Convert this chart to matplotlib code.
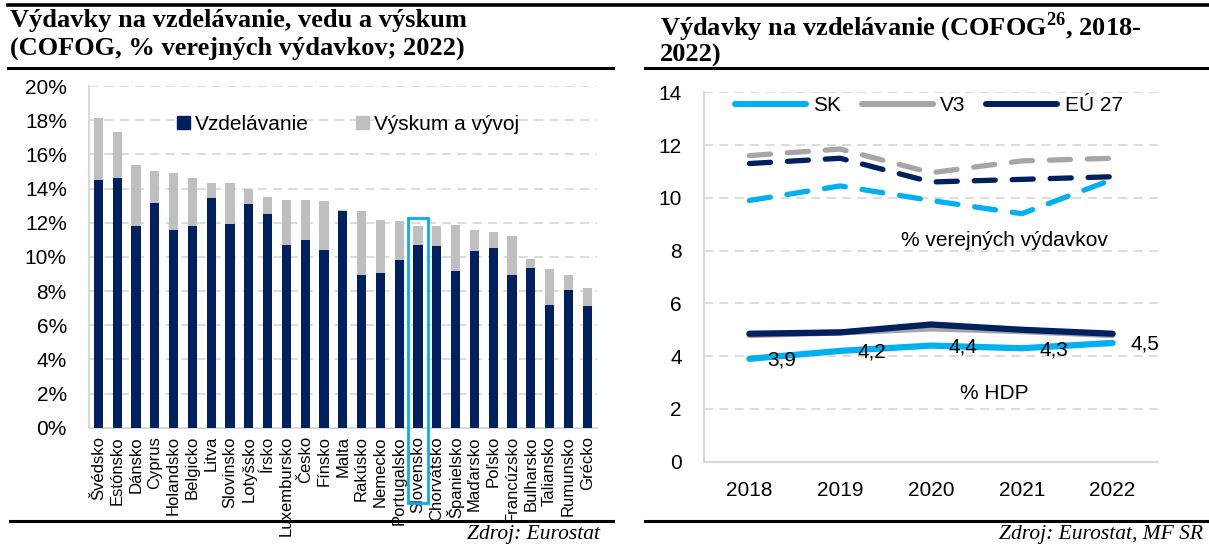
import matplotlib
matplotlib.use('Agg')
import matplotlib.pyplot as plt
import numpy as np
from matplotlib.patches import Patch, Rectangle
from matplotlib.lines import Line2D
from matplotlib.ticker import FuncFormatter, MultipleLocator

# --- data: left chart (2022, % of public spending) ---
countries = ['Švédsko', 'Estónsko', 'Dánsko', 'Cyprus', 'Holandsko', 'Belgicko',
             'Litva', 'Slovinsko', 'Lotyšsko', 'Írsko', 'Luxembursko', 'Česko',
             'Fínsko', 'Malta', 'Rakúsko', 'Nemecko', 'Portugalsko', 'Slovensko',
             'Chorvátsko', 'Španielsko', 'Maďarsko', 'Poľsko', 'Francúzsko',
             'Bulharsko', 'Taliansko', 'Rumunsko', 'Grécko']
vzdelavanie = [14.5, 14.6, 11.8, 13.15, 11.6, 11.8, 13.45, 11.95, 13.1, 12.5, 10.7,
               11.0, 10.4, 12.7, 8.95, 9.05, 9.8, 10.7, 10.65, 9.15, 10.35, 10.5,
               8.95, 9.35, 7.2, 8.05, 7.15]
vyskum = [3.65, 2.7, 3.55, 1.85, 3.3, 2.8, 0.9, 2.4, 0.9, 1.0, 2.6, 2.3, 2.85,
          0.05, 3.75, 3.1, 2.3, 1.1, 1.15, 2.7, 1.2, 0.95, 2.25, 0.55, 2.1, 0.9, 1.0]
highlight = 'Slovensko'

# --- data: right chart (2018-2022) ---
years = ['2018', '2019', '2020', '2021', '2022']
sk_vydavky = [9.9, 10.45, 9.9, 9.4, 10.7]
v3_vydavky = [11.6, 11.85, 10.95, 11.4, 11.5]
eu_vydavky = [11.3, 11.5, 10.6, 10.7, 10.8]
sk_hdp = [3.9, 4.2, 4.4, 4.3, 4.5]
v3_hdp = [4.8, 4.9, 5.05, 4.95, 4.8]
eu_hdp = [4.85, 4.9, 5.2, 5.0, 4.85]

NAVY = '#002060'
GREY_BAR = '#BFBFBF'
SK_C = '#00B0F0'
V3_C = '#A6A6A6'
GRID = '#D9D9D9'
SERIF = ['Liberation Serif', 'DejaVu Serif']

plt.rcParams['font.family'] = ['Liberation Sans Narrow', 'Liberation Sans', 'DejaVu Sans']
plt.rcParams['mathtext.fontset'] = 'custom'
plt.rcParams['mathtext.rm'] = 'Liberation Serif:bold'
plt.rcParams['mathtext.bf'] = 'Liberation Serif:bold'

W, H = 1209, 544
fig = plt.figure(figsize=(W / 100, H / 100), dpi=100)


def box(x0, y0, x1, y1):
    return [x0 / W, 1 - y1 / H, (x1 - x0) / W, (y1 - y0) / H]


def hline(x0, x1, y, lw=2.2):
    fig.add_artist(Line2D([x0 / W, x1 / W], [1 - y / H, 1 - y / H],
                          color='black', lw=lw, transform=fig.transFigure))


def style_axes(ax):
    for s in ['top', 'right']:
        ax.spines[s].set_visible(False)
    for s in ['left', 'bottom']:
        ax.spines[s].set_color(GRID)
        ax.spines[s].set_linewidth(1.5)
    ax.yaxis.grid(True, color=GRID, linestyle=(0, (5, 3.5)), lw=1.3)
    ax.set_axisbelow(True)
    ax.tick_params(length=0)


# ---------------- left chart ----------------
ax1 = fig.add_axes(box(89, 86, 596.6, 427.7))
x = np.arange(len(countries))
ax1.bar(x, vzdelavanie, width=0.48, color=NAVY, zorder=3)
ax1.bar(x, vyskum, width=0.48, bottom=vzdelavanie, color=GREY_BAR, zorder=3)
ax1.set_xlim(-0.5, len(countries) - 0.5)
ax1.set_ylim(0, 20)
ax1.yaxis.set_major_locator(MultipleLocator(2))
ax1.yaxis.set_major_formatter(FuncFormatter(lambda v, p: f'{v:.0f}%'))
style_axes(ax1)
ax1.set_xticks(x)
ax1.set_xticklabels(countries, rotation=90, fontsize=12)
ax1.tick_params(axis='x', pad=6)
ax1.tick_params(axis='y', labelsize=15, pad=16)

i = countries.index(highlight)
top = vzdelavanie[i] + vyskum[i]
ax1.add_patch(Rectangle((i - 0.55, -4.4), 1.1, top + 0.45 + 4.4, fill=False,
                        edgecolor=SK_C, lw=2, clip_on=False, zorder=5))

ax1.legend(handles=[Patch(color=NAVY), Patch(color=GREY_BAR)],
           labels=['Vzdelávanie', 'Výskum a vývoj'], ncol=2, frameon=False,
           loc='upper left', bbox_to_anchor=(0.173, 0.915), fontsize=15,
           handlelength=0.62, handleheight=0.62, handletextpad=0.25,
           columnspacing=2.25, borderpad=0, borderaxespad=0)

# ---------------- right chart ----------------
ax2 = fig.add_axes(box(704, 92.3, 1158, 461.7))
xs = np.arange(len(years))
dash = dict(lw=3.8, linestyle=(0, (4, 3.2)), dash_capstyle='round')
ax2.plot(xs, sk_vydavky, color=SK_C, **dash)
ax2.plot(xs, v3_vydavky, color=V3_C, **dash)
ax2.plot(xs, eu_vydavky, color=NAVY, **dash)
ax2.plot(xs, sk_hdp, color=SK_C, lw=4.5, solid_capstyle='round')
ax2.plot(xs, v3_hdp, color=V3_C, lw=4.5, solid_capstyle='round')
ax2.plot(xs, eu_hdp, color=NAVY, lw=4.5, solid_capstyle='round')
for xi, v in zip(xs, sk_hdp):
    ax2.annotate(f'{v:.1f}'.replace('.', ','), (xi, v), xytext=(23, -1),
                 textcoords='offset points', ha='center', va='center', fontsize=15)
ax2.set_xlim(-0.5, len(years) - 0.5)
ax2.set_ylim(0, 14)
ax2.yaxis.set_major_locator(MultipleLocator(2))
style_axes(ax2)
ax2.set_xticks(xs)
ax2.set_xticklabels(years)
ax2.tick_params(axis='x', labelsize=15, pad=14)
ax2.tick_params(axis='y', labelsize=15, pad=16)
ax2.text(2.81, 8.4, '% verejných výdavkov', ha='center', va='center', fontsize=15)
ax2.text(2.70, 2.6, '% HDP', ha='center', va='center', fontsize=15)
ax2.legend(handles=[Line2D([], [], color=c, lw=4.3, solid_capstyle='round')
                    for c in (SK_C, V3_C, NAVY)],
           labels=['SK', 'V3', 'EÚ 27'], ncol=3, frameon=False, loc='upper left',
           bbox_to_anchor=((735 - 704) / 454, (461.7 - 96) / 369.4), fontsize=15,
           handlelength=3.4, handletextpad=0.35, columnspacing=1.0,
           borderpad=0, borderaxespad=0)

# ---------------- titles, rules, sources ----------------
title_kw = dict(family=SERIF, weight='bold', fontsize=19, va='center')
fig.text(10 / W, 1 - 21 / H, 'Výdavky na vzdelávanie, vedu a výskum', **title_kw)
fig.text(10 / W, 1 - 48 / H, '(COFOG, % verejných výdavkov; 2022)', **title_kw)
fig.text(660 / W, 1 - 27 / H, r'Výdavky na vzdelávanie (COFOG$^{26}$, 2018-', **title_kw)
fig.text(660 / W, 1 - 55 / H, '2022)', **title_kw)

hline(8, W, 5, lw=2.6)
hline(8, 613, 68)
hline(645, W, 68)
hline(10, 613, 521)
hline(645, W, 521)

src_kw = dict(family=SERIF, style='italic', fontsize=15.5, ha='right', va='center')
fig.text(600 / W, 1 - 535 / H, 'Zdroj: Eurostat', **src_kw)
fig.text(1203 / W, 1 - 535 / H, 'Zdroj: Eurostat, MF SR', **src_kw)

fig.savefig('out.png', dpi=100)
